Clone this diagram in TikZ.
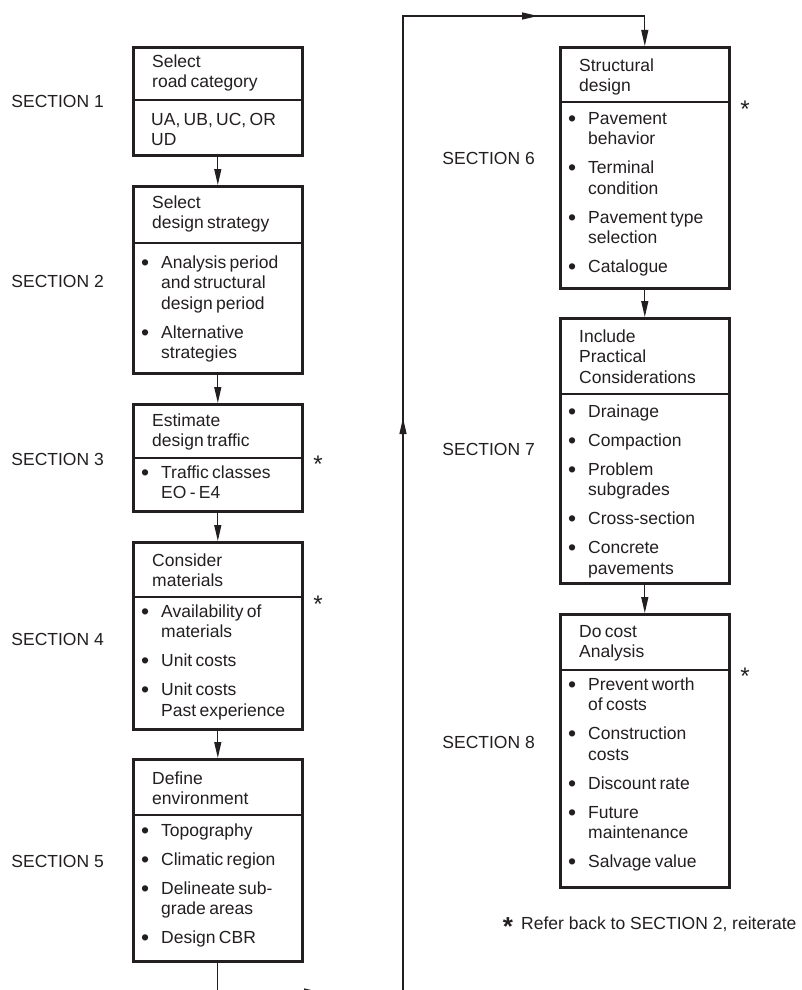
\documentclass[tikz,border=0pt]{standalone}
\usepackage{fontspec}
\setmainfont{Liberation Sans}
\usetikzlibrary{arrows.meta}
\definecolor{ink}{HTML}{231F20}
\newcommand\bx{\fontsize{17.5}{20.5}\selectfont\setlength\parskip{0pt}\raggedright}
\newcommand\hd[1]{\bx\noindent #1\par}
\newcommand\bul{\makebox[20pt][l]{\raisebox{-1.8pt}{\fontsize{23}{23}\selectfont •}}}
\newcommand\fitem[1]{\noindent\hangindent=20pt\hangafter=1\bul#1\par}
\newcommand\bitem[1]{\vspace{8.5pt}\fitem{#1}}
\begin{document}
\begin{tikzpicture}[x=1pt,y=-1pt,
  frame/.style={draw=ink, line width=2.6pt, line join=miter, anchor=north west, inner sep=0pt, minimum width=169pt},
  htext/.style={anchor=north west, inner xsep=20pt, inner ysep=0pt, text width=129pt, text height=23pt, text=ink},
  btext/.style={anchor=north west, inner xsep=9pt, inner ysep=0pt, text width=151pt, text height=21pt, text=ink},
  divl/.style={draw=ink, line width=1.7pt},
  conn/.style={draw=ink, line width=1.2pt},
  arr/.style={conn, -{Triangle[length=16pt,width=7pt]}},
  lab/.style={anchor=east, text=ink, font=\fontsize{17.5}{20.5}\selectfont, inner sep=0pt},
  ast/.style={anchor=base, text=ink, font=\fontsize{24}{24}\selectfont, inner sep=0pt}]
\useasboundingbox (0,0) rectangle (802,990);
\clip (0,0) rectangle (802,990);
\fill[white] (0,0) rectangle (802,990);

% ---------- box frames ----------
\node[frame, minimum height=108pt] (B1) at (132,46) {};
\node[frame, minimum height=187pt] (B2) at (132,185) {};
\node[frame, minimum height=107pt] (B3) at (132,403) {};
\node[frame, minimum height=187pt] (B4) at (132,541) {};
\node[frame, minimum height=202pt] (B5) at (132,758) {};
\node[frame, minimum height=241pt] (B6) at (559,46) {};
\node[frame, minimum height=265pt] (B7) at (559,317) {};
\node[frame, minimum height=273pt] (B8) at (559,613) {};

% ---------- dividers ----------
\coordinate (D1) at (132,100);
\coordinate (D2) at (132,243);
\coordinate (D3) at (132,458);
\coordinate (D4) at (132,597);
\coordinate (D5) at (132,815);
\coordinate (D6) at (559,102);
\coordinate (D7) at (559,394);
\coordinate (D8) at (559,670);
\foreach \i in {1,...,8}{\draw[divl] (D\i) -- (D\i -| B\i.east);}

% ---------- headers ----------
\node[htext, text height=21pt] (H1) at (B1.north west) {\hd{Select\newline road category}};
\node[htext, text height=23pt] (H2) at (B2.north west) {\hd{Select\newline design strategy}};
\node[htext, text height=23pt] (H3) at (B3.north west) {\hd{Estimate\newline design traffic}};
\node[htext, text height=25pt] (H4) at (B4.north west) {\hd{Consider\newline materials}};
\node[htext, text height=26pt] (H5) at (B5.north west) {\hd{Define\newline environment}};
\node[htext, text height=25pt] (H6) at (B6.north west) {\hd{Structural\newline design}};
\node[htext, text height=25pt] (H7) at (B7.north west) {\hd{Include\newline Practical\newline Considerations}};
\node[htext, text height=24pt] (H8) at (B8.north west) {\hd{Do cost\newline Analysis}};

% ---------- bodies ----------
\node[btext, inner xsep=19pt, text width=131pt, text height=25pt] (T1) at (D1) {\hd{UA, UB, UC, OR\newline UD}};
\node[btext, text height=25pt] (T2) at (D2) {\bx\fitem{Analysis period\newline and structural\newline design period}\bitem{Alternative\newline strategies}};
\node[btext, text height=20pt] (T3) at (D3) {\bx\fitem{Traffic classes\newline EO - E4}};
\node[btext, text height=20pt] (T4) at (D4) {\bx\fitem{Availability of\newline materials}\bitem{Unit costs}\bitem{Unit costs\newline Past experience}};
\node[btext, text height=21pt] (T5) at (D5) {\bx\fitem{Topography}\bitem{Climatic region}\bitem{Delineate sub-\newline grade areas}\bitem{Design CBR}};
\node[btext, text height=22pt] (T6) at (D6) {\bx\fitem{Pavement\newline behavior}\bitem{Terminal\newline condition}\bitem{Pavement type\newline selection}\bitem{Catalogue}};
\node[btext, text height=23pt] (T7) at (D7) {\bx\fitem{Drainage}\bitem{Compaction}\bitem{Problem\newline subgrades}\bitem{Cross-section}\bitem{Concrete\newline pavements}};
\node[btext, text height=20pt] (T8) at (D8) {\bx\fitem{Prevent worth\newline of costs}\bitem{Construction\newline costs}\bitem{Discount rate}\bitem{Future\newline maintenance}\bitem{Salvage value}};

% ---------- connectors ----------
\draw[arr] (B1.south) -- (B2.north);
\draw[arr] (B2.south) -- (B3.north);
\draw[arr] (B3.south) -- (B4.north);
\draw[arr] (B4.south) -- (B5.north);
\draw[arr] (B6.south) -- (B7.north);
\draw[arr] (B7.south) -- (B8.north);

\coordinate (c1) at (217,992);
\coordinate (c2) at (403,992);
\coordinate (c3) at (403,16);
\coordinate (c4) at (B6.north |- c3);
\coordinate (m1) at (320,992);
\coordinate (m2) at (403,418);
\coordinate (m3) at (538,16);
\draw[conn] (B5.south) -- (B5.south |- c1) -- (c2) -- (c3) -- (c4);
\draw[arr] (B5.south |- c1) -- (m1);
\draw[arr] (c2) -- (m2);
\draw[arr] (c3) -- (m3);
\draw[arr] (c4) -- (B6.north);

% ---------- section labels ----------
\node[lab] (s1) at (104,101) {SECTION 1};
\node[lab] (s2) at (104,281) {SECTION 2};
\node[lab] (s3) at (104,459) {SECTION 3};
\node[lab] (s4) at (104,639) {SECTION 4};
\node[lab] (s5) at (104,861) {SECTION 5};
\node[lab] (s6) at (535,158) {SECTION 6};
\node[lab] (s7) at (535,449) {SECTION 7};
\node[lab] (s8) at (535,742) {SECTION 8};

% ---------- asterisks ----------
\node[ast] (a3) at (318,472) {*};
\node[ast] (a4) at (318,612) {*};
\node[ast] (a6) at (745,117) {*};
\node[ast] (a8) at (745,684) {*};

% ---------- note ----------
\node[anchor=base, text=ink, font=\fontsize{26}{26}\bfseries, inner sep=0pt] (na) at (508,935) {*};
\node[anchor=base west, text=ink, font=\fontsize{17.5}{20}\selectfont, inner sep=0pt] (nt) at (521,929) {Refer back to SECTION 2, reiterate};
\end{tikzpicture}
\end{document}
